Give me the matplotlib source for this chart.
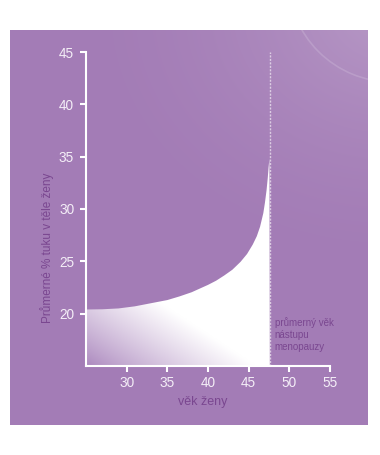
import numpy as np
import matplotlib
matplotlib.use('Agg')
import matplotlib.pyplot as plt
import matplotlib.patches as patches
from matplotlib.path import Path

plt.rcParams['font.family'] = ['Liberation Sans', 'DejaVu Sans']

PURPLE = '#A37CB6'
DARK = '#7A4790'
LIGHT = '#F4EEF7'

# curve: age vs. average body fat %
age = [25, 27, 29, 31, 33, 35, 36.5, 38, 39, 40, 41, 42, 43, 44, 44.8,
       45.5, 46.0, 46.4, 46.8, 47.0, 47.2, 47.35, 47.45, 47.55]
fat = [20.4, 20.42, 20.5, 20.7, 21.0, 21.3, 21.65, 22.05, 22.4, 22.75, 23.15,
       23.65, 24.2, 24.95, 25.7, 26.6, 27.4, 28.3, 29.6, 30.6, 31.8, 33.0,
       34.0, 34.8]
menopause_age = 47.6

x_ticks = [30, 35, 40, 45, 50, 55]
y_ticks = [20, 25, 30, 35, 40, 45]

W, H = 380, 455
fig = plt.figure(figsize=(W / 100, H / 100), dpi=100, facecolor='white')

# ---- purple panel with a soft light glow in the upper right ----
px0, px1, py0, py1 = 10, 368, 30, 425
bg = fig.add_axes([px0 / W, 1 - py1 / H, (px1 - px0) / W, (py1 - py0) / H])
bg.axis('off')
gx, gy = np.meshgrid(np.arange(px0, px1), np.arange(py0, py1))
d = np.hypot(gx - 390, (gy - 10) * 1.2)
glow = np.clip(1 - d / 330, 0, 1) ** 1.8 * 0.22
base = np.array(matplotlib.colors.to_rgb(PURPLE))
img = base[None, None, :] + (1 - base[None, None, :]) * glow[..., None]
bg.imshow(img, extent=[px0, px1, py1, py0], aspect='auto', interpolation='bilinear')
bg.set_xlim(px0, px1)
bg.set_ylim(py1, py0)
arc = patches.Arc((392, -22), 208, 208, color='white', alpha=0.15, lw=1.2)
bg.add_patch(arc)
arc.set_clip_path(bg.patch)

# ---- main chart ----
ax = fig.add_axes([86 / W, 1 - 366 / H, 244 / W, 314 / H])
ax.patch.set_alpha(0)
ax.set_xlim(25, 55)
ax.set_ylim(15, 45)

# gradient fill under the curve
verts = list(zip(age, fat)) + [(menopause_age, 15), (25, 15), (age[0], fat[0])]
clip = patches.PathPatch(Path(verts), facecolor='none', edgecolor='none')
ax.add_patch(clip)
xs = np.linspace(25, menopause_age, 300)
ys = np.linspace(15, 36, 300)
X, Y = np.meshgrid(xs, ys)
t = np.clip((X - 25) * 8.13 / 170 + (Y - 15) * 10.48 / 112, 0, 1) ** 0.85
start = np.array(matplotlib.colors.to_rgb('#AA86BD'))
grad = start[None, None, :] + (1 - start[None, None, :]) * t[..., None]
im = ax.imshow(grad, extent=[25, menopause_age, 15, 36], origin='lower',
               aspect='auto', interpolation='bilinear', zorder=1)
im.set_clip_path(clip)

ax.plot([menopause_age, menopause_age], [15, 45], color='white', alpha=0.6,
        lw=1, linestyle=(0, (1.5, 1)), zorder=2)

for s in ['top', 'right']:
    ax.spines[s].set_visible(False)
for s in ['left', 'bottom']:
    ax.spines[s].set_color('white')
    ax.spines[s].set_linewidth(1.5)
    ax.spines[s].set_zorder(3)

ax.set_xticks(x_ticks)
ax.set_yticks(y_ticks)
ax.tick_params(colors='white', width=1.5, length=4.5, labelsize=9.8,
               labelcolor=LIGHT)
ax.tick_params(axis='y', pad=4)
ax.tick_params(axis='x', pad=3)

ax.set_xlabel('věk ženy', color=DARK, fontsize=9)
ax.xaxis.set_label_coords(0.48, -0.095)
ax.set_ylabel('Průmerné % tuku v těle ženy', color=DARK, fontsize=8.5)
ax.yaxis.set_label_coords(-0.132, 0.375)

ax.text(48.2, 16.3, 'průmerný věk\nnástupu\nmenopauzy', color=DARK,
        fontsize=7, ha='left', va='bottom', linespacing=1.3)

fig.savefig('out.png', dpi=100, facecolor='white')
